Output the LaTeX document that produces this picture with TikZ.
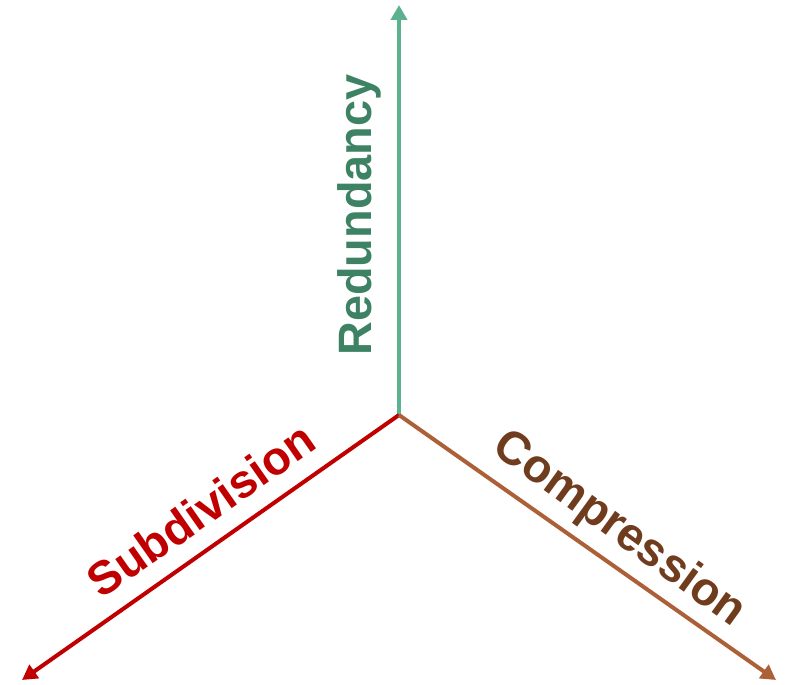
\documentclass[tikz,border=0pt]{standalone}
\usepackage{fontspec}
\setsansfont{Liberation Sans}
\usepackage{tikz}
\usetikzlibrary{arrows.meta,positioning}

\definecolor{redundline}{RGB}{92,178,142}
\definecolor{redundtext}{RGB}{62,130,100}
\definecolor{subdivred}{RGB}{192,0,0}
\definecolor{complline}{RGB}{172,96,56}
\definecolor{compltext}{RGB}{112,60,30}

\begin{document}
\begin{tikzpicture}[x=1bp, y=1bp,
    axis/.style={line width=4bp, -{Triangle[length=15bp,width=16bp]}},
    axislabel/.style={font=\sffamily\bfseries\fontsize{47}{56}\selectfont, inner sep=0pt}]
  \useasboundingbox (0,0) rectangle (790,685);

  % origin and axis ends
  \coordinate (origin) at (399,270);
  \coordinate (redundEnd) at (399,680);
  \coordinate (subdivEnd) at (22,5);
  \coordinate (complEnd) at (776,5);

  % Axes
  \draw[axis, redundline] (origin) -- (redundEnd);
  \draw[axis, subdivred] (origin) -- (subdivEnd);
  \draw[axis, complline] (origin) -- (complEnd);

  % Labels
  \node[axislabel, text=redundtext, rotate=90] (redund) at (359,470) {Redundancy};
  \node[axislabel, text=subdivred, rotate=35] (subdiv) at (201,175) {Subdivision};
  \node[axislabel, text=compltext, rotate=-36] (compl) at (619,155) {Compression};
\end{tikzpicture}
\end{document}
